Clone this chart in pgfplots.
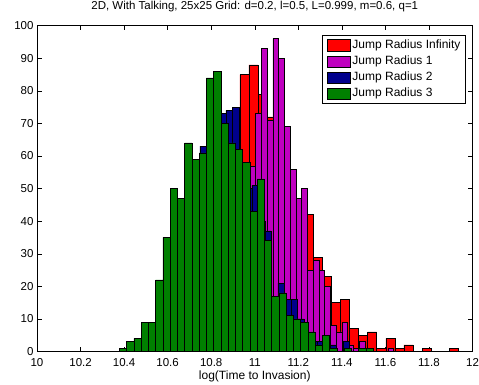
\documentclass[border=0pt]{standalone}
\usepackage{fontspec}
\setmainfont{Liberation Sans}
\usepackage{pgfplots}
\pgfplotsset{compat=1.18}
\definecolor{mred}{RGB}{255,0,0}
\definecolor{mmag}{RGB}{191,0,191}
\definecolor{mblue}{RGB}{0,0,140}
\definecolor{mgreen}{RGB}{0,128,0}
\pgfplotsset{
  histbar/.style={ybar interval, draw=black, line width=0.5pt, fill=#1,
    legend image code/.code={\path (0pt,0pt); \draw[fill=#1, draw=black, line width=0.5pt] (2.3pt,-5.6pt) rectangle (25.3pt,5.6pt);}},
}
\begin{document}
\begin{tikzpicture}
\begin{axis}[
  scale only axis, width=435.5pt, height=325.8pt,
  xmin=10, xmax=12, ymin=0, ymax=100,
  xtick={10,10.2,10.4,10.6,10.8,11,11.2,11.4,11.6,11.8,12},
  ytick={0,10,20,30,40,50,60,70,80,90,100},
  tick align=inside, tick pos=both,
  major tick length=4.5pt,
  tick style={black, line width=0.5pt},
  axis line style={line width=0.6pt},
  /pgf/number format/assume math mode=true,
  ticklabel style={font=\fontsize{11.5}{13}\selectfont},
  xticklabel style={/pgf/number format/fixed, anchor=base, yshift=-14.5pt},
  title={2D, With Talking, 25x25 Grid: d=0.2, l=0.5, L=0.999, m=0.6, q=1},
  title style={font=\fontsize{11.5}{13}\selectfont, at={(0.5,1)}, anchor=base, yshift=10.5pt},
  xlabel={log(Time to Invasion)},
  xlabel style={font=\fontsize{12}{14}\selectfont, at={(0.5,0)}, anchor=base, yshift=-27.5pt},
  legend style={at={(0.9839,0.9714)}, anchor=north east, draw=black, line width=0.6pt,
    font=\fontsize{12}{14}\selectfont, inner xsep=2.3pt, inner ysep=1.8pt, row sep=0pt,
    nodes={inner xsep=2.4pt, inner ysep=2.45pt, text height=8.8pt, text depth=2.5pt}},
  legend cell align=left,
]
% Jump Radius Infinity
\addplot[histbar=mred] coordinates {
(10.4703,1) (10.5122,3) (10.5541,6) (10.5960,12) (10.6379,20) (10.6798,28) (10.7217,38)
(10.7636,45) (10.8055,55) (10.8474,62) (10.8893,70) (10.9312,85) (10.9731,88) (11.0150,79)
(11.0569,72) (11.0988,65) (11.1407,55) (11.1826,46) (11.2245,42) (11.2664,29) (11.3083,23)
(11.3502,15) (11.3921,16) (11.4340,7) (11.4759,5) (11.5178,6) (11.5597,1) (11.6016,4)
(11.6435,1) (11.6854,2) (11.7273,0) (11.7692,1) (11.8111,0) (11.8530,0) (11.8949,1) (11.9368,1)
};
\addlegendentry{Jump Radius Infinity}
% Jump Radius 1
\addplot[histbar=mmag] coordinates {
(10.7126,1) (10.7390,1) (10.7655,2) (10.7919,3) (10.8184,6) (10.8448,10) (10.8712,15)
(10.8977,22) (10.9241,30) (10.9506,40) (10.9770,57) (11.0034,73) (11.0299,93) (11.0563,71)
(11.0828,96) (11.1092,90) (11.1356,69) (11.1621,56) (11.1885,47) (11.2150,50) (11.2414,25)
(11.2678,28) (11.2943,25) (11.3207,20) (11.3472,8) (11.3736,6) (11.4000,9) (11.4265,2)
(11.4529,1) (11.4794,3) (11.5058,1) (11.5322,0) (11.5587,0) (11.5851,0) (11.6116,1) (11.6380,1)
};
\addlegendentry{Jump Radius 1}
% Jump Radius 2
\addplot[histbar=mblue] coordinates {
(10.3894,1) (10.4193,2) (10.4492,3) (10.4791,6) (10.5089,8) (10.5388,9) (10.5687,20)
(10.5986,28) (10.6285,38) (10.6584,45) (10.6883,52) (10.7182,56) (10.7481,63) (10.7780,70)
(10.8078,72) (10.8377,73) (10.8676,74) (10.8975,75) (10.9274,56) (10.9573,50) (10.9872,51)
(11.0171,40) (11.0470,37) (11.0769,15) (11.1067,21) (11.1366,16) (11.1665,16) (11.1964,10)
(11.2263,5) (11.2562,3) (11.2861,3) (11.3160,2) (11.3459,2) (11.3758,0) (11.4057,3) (11.4356,3)
};
\addlegendentry{Jump Radius 2}
% Jump Radius 3
\addplot[histbar=mgreen] coordinates {
(10.3780,1) (10.4113,3) (10.4446,4) (10.4779,9) (10.5112,9) (10.5445,22) (10.5777,35)
(10.6110,50) (10.6443,47) (10.6776,64) (10.7109,59) (10.7442,61) (10.7775,84) (10.8108,86)
(10.8441,70) (10.8774,64) (10.9106,62) (10.9439,58) (10.9772,43) (11.0105,53) (11.0438,34)
(11.0771,17) (11.1104,18) (11.1437,11) (11.1770,10) (11.2103,9) (11.2435,6) (11.2768,2)
(11.3101,5) (11.3434,1) (11.3767,0) (11.4100,1) (11.4433,0) (11.4766,1) (11.5099,1) (11.5432,1)
};
\addlegendentry{Jump Radius 3}
\end{axis}
\pgfresetboundingbox
\path[use as bounding box] (current axis.south west) ++(-37pt,-32.5pt) rectangle ++(479pt,384pt);
\end{tikzpicture}
\end{document}
